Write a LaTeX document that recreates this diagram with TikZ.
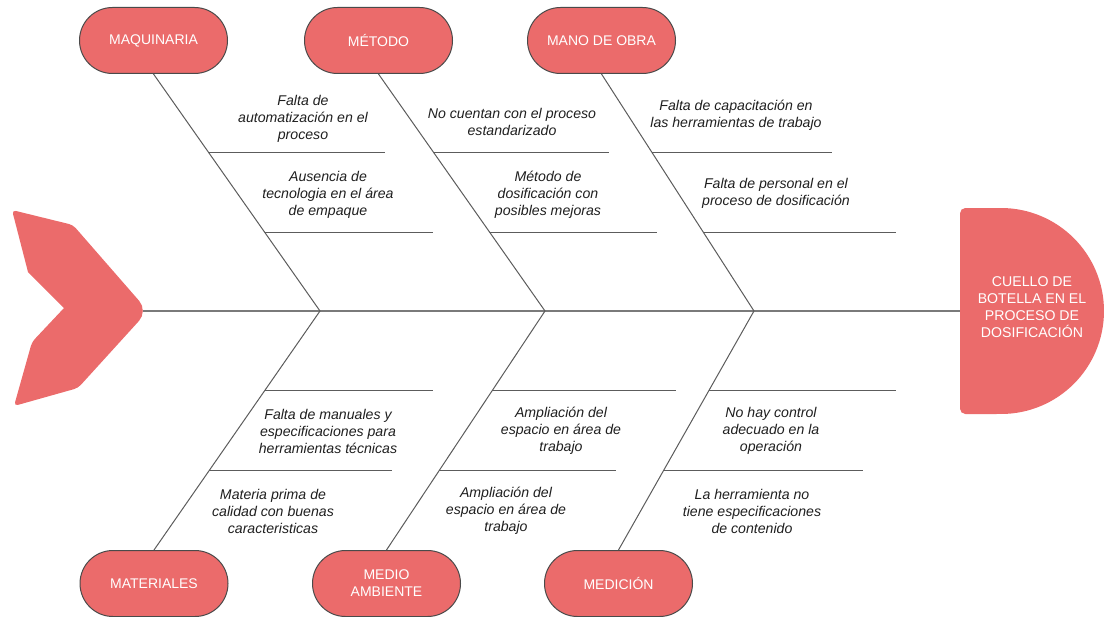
\documentclass[tikz,border=0pt]{standalone}
\usepackage{fontspec}
\setmainfont{Liberation Sans}
\usetikzlibrary{shapes.misc,calc}
\definecolor{coral}{HTML}{EB6B6B}
\definecolor{edgegray}{HTML}{4A4A4A}
\definecolor{bonegray}{HTML}{5C5C5C}
\definecolor{spinegray}{HTML}{7A7A7A}
\begin{document}
\begin{tikzpicture}[x=0.75pt,y=-0.75pt,
 cat/.style={rounded rectangle, draw=edgegray, line width=0.75pt, fill=coral, text=white,
   minimum width=111pt, minimum height=49.5pt, inner sep=0pt, align=center,
   font=\fontsize{10.5}{12.75}\selectfont},
 cause/.style={align=center, inner sep=0pt, text=black!88,
   font=\fontsize{10.6}{12.75}\selectfont\itshape},
 headtext/.style={align=center, inner sep=0pt, text=white,
   font=\fontsize{10.6}{12.75}\selectfont},
 boneline/.style={draw=bonegray, line width=0.75pt},
 ribline/.style={draw=bonegray, line width=0.75pt},
 spineline/.style={draw=spinegray, line width=0.9pt},
]
\useasboundingbox (0,0) rectangle (1104,617);

% category boxes
\node[cat] (maq) at (153.5,40.5) {MAQUINARIA};
\node[cat] (met) at (378.5,40.5) {MÉTODO};
\node[cat] (mano) at (601.5,40.5) {MANO DE OBRA};
\node[cat] (mat) at (154,583.5) {MATERIALES};
\node[cat] (medio) at (386.5,583.5) {MEDIO\\AMBIENTE};
\node[cat] (medic) at (618.5,583.5) {MEDICIÓN};

% spine and junctions
\coordinate (tailtip) at (143,311);
\coordinate (headleft) at (961,311);
\coordinate (j1) at (320,311);
\coordinate (j2) at (545,311);
\coordinate (j3) at (754,311);
\draw[spineline] (tailtip) -- (headleft);

% bones
\draw[boneline] (maq.south) -- (j1);
\draw[boneline] (met.south) -- (j2);
\draw[boneline] (mano.south) -- (j3);
\draw[boneline] (mat.north) -- (j1);
\draw[boneline] (medio.north) -- (j2);
\draw[boneline] (medic.north) -- (j3);

% rib start points
\coordinate (a1) at ($(maq.south)!0.333!(j1)$);
\coordinate (a2) at ($(maq.south)!0.667!(j1)$);
\coordinate (b1) at ($(met.south)!0.333!(j2)$);
\coordinate (b2) at ($(met.south)!0.667!(j2)$);
\coordinate (c1) at ($(mano.south)!0.333!(j3)$);
\coordinate (c2) at ($(mano.south)!0.667!(j3)$);
\coordinate (d1) at ($(j1)!0.334!(mat.north)$);
\coordinate (d2) at ($(j1)!0.666!(mat.north)$);
\coordinate (f1) at ($(j2)!0.334!(medio.north)$);
\coordinate (f2) at ($(j2)!0.666!(medio.north)$);
\coordinate (g1) at ($(j3)!0.334!(medic.north)$);
\coordinate (g2) at ($(j3)!0.666!(medic.north)$);
% rib free ends
\coordinate (ea1) at (385,0);
\coordinate (ea2) at (433,0);
\coordinate (eb1) at (609,0);
\coordinate (eb2) at (657,0);
\coordinate (ec1) at (832,0);
\coordinate (ec2) at (896,0);
\coordinate (ed1) at (433,0);
\coordinate (ed2) at (392,0);
\coordinate (ef1) at (676,0);
\coordinate (ef2) at (616,0);
\coordinate (eg1) at (896,0);
\coordinate (eg2) at (863,0);
\foreach \r in {a1,a2,b1,b2,c1,c2,d1,d2,f1,f2,g1,g2}
  \draw[ribline] (\r) -- (\r -| e\r);

% causes
\node[cause] (t1) at (303,119) {Falta de\\automatización en el\\proceso};
\node[cause] (t2) at (328,195) {Ausencia de\\tecnologia en el área\\de empaque};
\node[cause] (t3) at (512,121.5) {No cuentan con el proceso\\estandarizado};
\node[cause] (t4) at (548,195) {Método de\\dosificación con\\posibles mejoras};
\node[cause] (t5) at (736,115) {Falta de capacitación en\\las herramientas de trabajo};
\node[cause] (t6) at (776,193.5) {Falta de personal en el\\proceso de dosificación};
\node[cause] (t7) at (328,431) {Falta de manuales y\\especificaciones para\\herramientas técnicas};
\node[cause] (t8) at (273,511) {Materia prima de\\calidad con buenas\\caracteristicas};
\node[cause] (t9) at (561,431) {Ampliación del\\espacio en área de\\trabajo};
\node[cause] (t10) at (506,511) {Ampliación del\\espacio en área de\\trabajo};
\node[cause] (t11) at (771,431) {No hay control\\adecuado en la\\operación};
\node[cause] (t12) at (752,511) {La herramienta no\\tiene especificaciones\\de contenido};

% tail
\fill[coral, rounded corners=3pt] (28,272) -- (12,210) -- (73,225)
  [rounded corners=10pt] -- (148,311) [rounded corners=3pt] -- (78,388) -- (14,406) -- (32,342)
  [sharp corners] -- (64,308) -- cycle;

% head
\begin{scope}
  \clip (960,0) rectangle (1104,617);
  \fill[coral] (1001,311) circle[radius=77.25pt];
\end{scope}
\fill[coral, rounded corners=4pt] (960,208) rectangle (1002,414);
\node[headtext] (head) at (1032,307) {CUELLO DE\\BOTELLA EN EL\\PROCESO DE\\DOSIFICACIÓN};
\end{tikzpicture}
\end{document}
